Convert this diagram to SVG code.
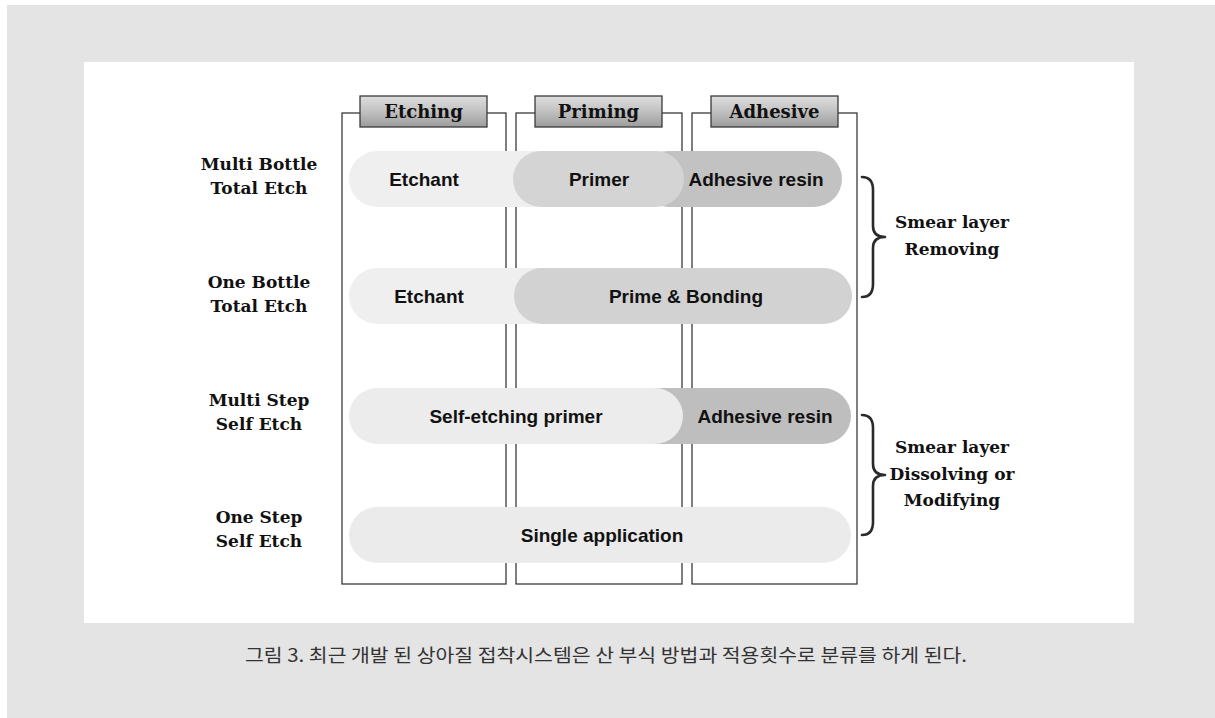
<svg xmlns="http://www.w3.org/2000/svg" width="1215" height="718" viewBox="0 0 1215 718">
  <defs>
    <linearGradient id="hdr" x1="0" y1="0" x2="0" y2="1">
      <stop offset="0" stop-color="#dedede"/>
      <stop offset="0.45" stop-color="#c4c4c4"/>
      <stop offset="1" stop-color="#9c9c9c"/>
    </linearGradient>
    <style>
      .col{fill:none;stroke:#2a2a2a;stroke-width:1.2}
      .hbox{fill:url(#hdr);stroke:#3a3a3a;stroke-width:1.3}
      .htxt{font-family:"DejaVu Serif","Liberation Serif",serif;font-size:18px;font-weight:bold;fill:#111;text-anchor:middle}
      .rlab{font-family:"DejaVu Serif","Liberation Serif",serif;font-size:17px;font-weight:bold;fill:#111;text-anchor:middle}
      .ptxt{font-family:"Liberation Sans",Arial,sans-serif;font-size:19px;font-weight:bold;fill:#111;text-anchor:middle}
      .brace{fill:none;stroke:#2a2a2a;stroke-width:2.6;stroke-linecap:round;stroke-linejoin:round}
      .cap{font-family:"Noto Sans CJK KR","Noto Sans",sans-serif;font-size:18px;fill:#333}
    </style>
  </defs>
  <rect x="0" y="0" width="1215" height="718" fill="#ffffff"/>
  <rect x="7" y="5" width="1208" height="713" fill="#e4e4e4"/>
  <rect x="84" y="62" width="1050" height="561" fill="#ffffff"/>

  <g id="col-etching">
    <rect class="col" x="342" y="113" width="164" height="471"/>
    <rect class="hbox" x="360" y="96" width="127" height="31"/>
    <text class="htxt" x="423.5" y="118">Etching</text>
  </g>
  <g id="col-priming">
    <rect class="col" x="516" y="113" width="166" height="471"/>
    <rect class="hbox" x="535" y="96" width="127" height="31"/>
    <text class="htxt" x="598.5" y="118">Priming</text>
  </g>
  <g id="col-adhesive">
    <rect class="col" x="692" y="113" width="165" height="471"/>
    <rect class="hbox" x="711" y="96" width="127" height="31"/>
    <text class="htxt" x="774.5" y="118">Adhesive</text>
  </g>

  <g id="row1">
    <text class="rlab" x="259" y="170">Multi Bottle</text>
    <text class="rlab" x="259" y="194">Total Etch</text>
    <rect x="349" y="151" width="250" height="56" rx="28" fill="#efefef"/>
    <rect x="640" y="151" width="202" height="56" rx="28" fill="#c2c2c2"/>
    <rect x="513" y="151" width="171" height="56" rx="28" fill="#d4d4d4"/>
    <text class="ptxt" x="424" y="186">Etchant</text>
    <text class="ptxt" x="599" y="186">Primer</text>
    <text class="ptxt" x="756" y="186">Adhesive resin</text>
  </g>
  <g id="row2">
    <text class="rlab" x="259" y="288">One Bottle</text>
    <text class="rlab" x="259" y="312">Total Etch</text>
    <rect x="349" y="268" width="250" height="56" rx="28" fill="#efefef"/>
    <rect x="514" y="268" width="338" height="56" rx="28" fill="#d2d2d2"/>
    <text class="ptxt" x="429" y="303">Etchant</text>
    <text class="ptxt" x="686" y="303">Prime &amp; Bonding</text>
  </g>
  <g id="row3">
    <text class="rlab" x="259" y="406">Multi Step</text>
    <text class="rlab" x="259" y="430">Self Etch</text>
    <rect x="600" y="388" width="251" height="56" rx="28" fill="#bebebe"/>
    <rect x="349" y="388" width="334" height="56" rx="28" fill="#ececec"/>
    <text class="ptxt" x="516" y="423">Self-etching primer</text>
    <text class="ptxt" x="765" y="423">Adhesive resin</text>
  </g>
  <g id="row4">
    <text class="rlab" x="259" y="523">One Step</text>
    <text class="rlab" x="259" y="547">Self Etch</text>
    <rect x="349" y="507" width="502" height="56" rx="28" fill="#ebebeb"/>
    <text class="ptxt" x="602" y="542">Single application</text>
  </g>

  <g id="connectors">
    <path class="brace" d="M862,177 Q873,177 873,190 L873,226 Q873,237 885,237 Q873,237 873,248 L873,284 Q873,297 862,297"/>
    <path class="brace" d="M862,415 Q873,415 873,428 L873,464 Q873,475 885,475 Q873,475 873,486 L873,522 Q873,535 862,535"/>
  </g>

  <g id="group-removing">
    <text class="rlab" x="952" y="228">Smear layer</text>
    <text class="rlab" x="952" y="255">Removing</text>
  </g>
  <g id="group-dissolving">
    <text class="rlab" x="952" y="453">Smear layer</text>
    <text class="rlab" x="952" y="480">Dissolving or</text>
    <text class="rlab" x="952" y="506">Modifying</text>
  </g>

  <text class="cap" x="245" y="662" textLength="722" lengthAdjust="spacingAndGlyphs">그림 3. 최근 개발 된 상아질 접착시스템은 산 부식 방법과 적용횟수로 분류를 하게 된다.</text>
</svg>
